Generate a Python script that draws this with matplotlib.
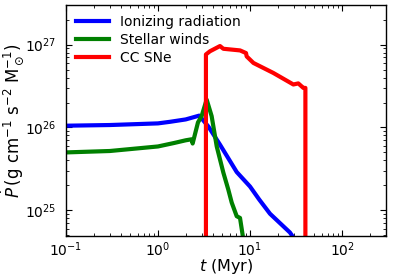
import matplotlib
matplotlib.use("Agg")
import matplotlib.pyplot as plt
import numpy as np

ion_t = [0.1, 0.3, 1.0, 1.35, 2.0, 2.81, 3.52, 4.72, 7.17, 10.0, 12.6, 16.5, 27.2, 30.0]
ion_p = [1.05e26, 1.07e26, 1.12e26, 1.17e26, 1.25e26, 1.39e26, 1.03e26, 6.2e25, 2.9e25, 1.94e25, 1.35e25, 9.1e24, 5.4e24, 4.6e24]

wind_t = [0.1, 0.3, 1.0, 1.5, 2.0, 2.32, 2.38, 2.72, 2.98, 3.38, 3.83, 4.35, 5.13, 5.81, 6.33, 7.17, 7.79, 8.33, 8.6]
wind_p = [5.0e25, 5.2e25, 5.9e25, 6.5e25, 7.0e25, 7.2e25, 6.4e25, 1.15e26, 1.37e26, 2.17e26, 1.37e26, 5.9e25, 2.86e25, 1.78e25, 1.24e25, 8.5e24, 8.1e24, 5.0e24, 3.0e24]

sn_t = [3.32, 3.32, 3.67, 4.72, 5.13, 7.8, 9.05, 9.2, 10.9, 17.9, 29.6, 33.5, 38.0, 40.0, 40.0]
sn_p = [1e24, 7.6e26, 8.3e26, 9.6e26, 8.9e26, 8.5e26, 7.9e26, 7.2e26, 6.0e26, 4.55e26, 3.3e26, 3.4e26, 3.0e26, 3.0e26, 1e24]

labels = ["Ionizing radiation", "Stellar winds", "CC SNe"]
colors = ["#0000ff", "#008000", "#ff0000"]

fig = plt.figure(figsize=(3.95, 2.79), dpi=100)
ax = fig.add_axes([0.167, 0.154, 0.810, 0.828])
ax.plot(ion_t, ion_p, color=colors[0], lw=3, label=labels[0])
ax.plot(wind_t, wind_p, color=colors[1], lw=3, label=labels[1])
ax.plot(sn_t, sn_p, color=colors[2], lw=3, label=labels[2])
ax.set_xscale("log")
ax.set_yscale("log")
ax.set_xlim(0.1, 300)
ax.set_ylim(4.9e24, 3.0e27)
ax.tick_params(which="both", direction="in", top=True, right=True, labelsize=10)
ax.tick_params(which="major", length=4)
ax.tick_params(which="minor", length=2)
ax.tick_params(axis="y", which="both", pad=7)
ax.tick_params(axis="x", which="both", pad=3)
for s in ax.spines.values():
    s.set_linewidth(1.0)
ax.set_xlabel(r"$t$ (Myr)", fontsize=11.5)
ax.set_ylabel(r"$\dot{P}\,$(g cm$^{-1}$ s$^{-2}$ M$_\odot^{-1}$)", fontsize=12)
ax.xaxis.set_label_coords(0.5, -0.09)
ax.yaxis.set_label_coords(-0.125, 0.5)
ax.legend(loc="upper left", frameon=False, fontsize=10, handlelength=2.4, handletextpad=0.8,
          borderaxespad=0.3, borderpad=0.4, labelspacing=0.3)
fig.savefig("out.png", dpi=100)
